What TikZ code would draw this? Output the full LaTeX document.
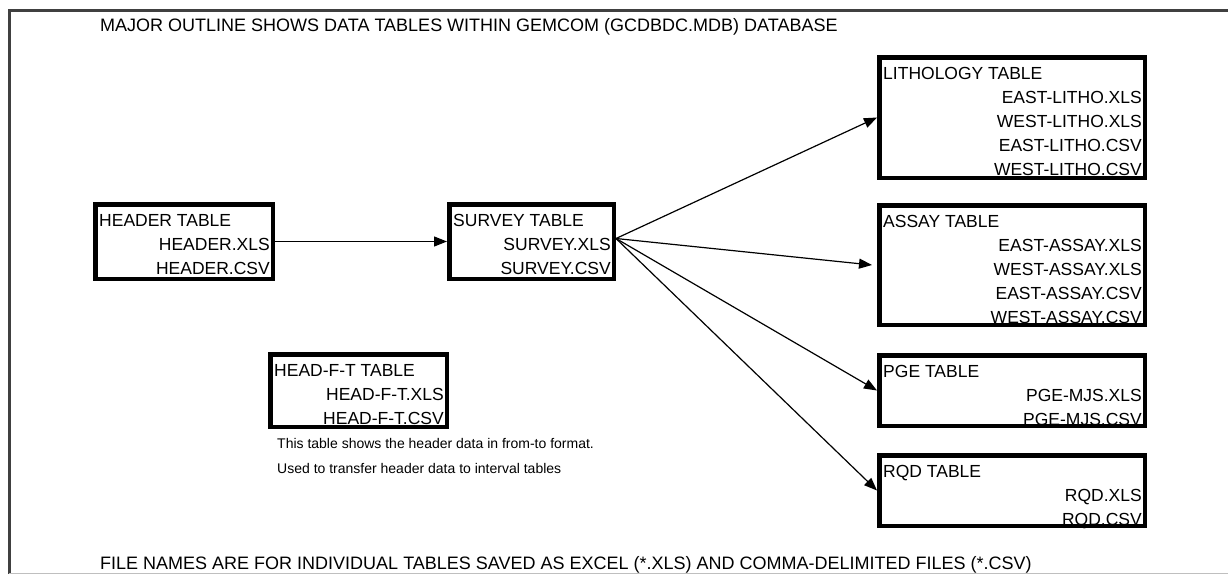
\documentclass[tikz,border=0pt]{standalone}
\usepackage{fontspec}
\setmainfont{Liberation Sans}
\usetikzlibrary{arrows.meta,calc}
\begin{document}
\begin{tikzpicture}[x=1pt,y=-1pt,
  tbl/.style={draw=black,line width=4.5pt,outer sep=2.25pt,inner sep=0pt,anchor=north west},
  ttl/.style={anchor=base west,inner sep=0pt,font=\fontsize{17.5}{20}\selectfont},
  fname/.style={anchor=base east,inner sep=0pt,font=\fontsize{17.5}{20}\selectfont},
  note/.style={anchor=base west,inner sep=0pt,font=\fontsize{18}{20}\selectfont},
  capt/.style={anchor=base west,inner sep=0pt,font=\fontsize{14}{16}\selectfont},
  conn/.style={line width=1.2pt,-{Triangle[length=13pt,width=10pt]}},
  framel/.style={line width=3pt,draw=black!75}
]
\useasboundingbox (0,0) rectangle (1228,574);
\clip (0,0) rectangle (1228,574);

% outer frame (cropped)
\coordinate (fA) at (1228,10);
\coordinate (fB) at (9,10);
\coordinate (fC) at (9,574);
\draw[framel] (fA) -- (fB) -- (fC);

% title
\node[note] (title) at (100,31) {MAJOR OUTLINE SHOWS DATA TABLES WITHIN GEMCOM (GCDBDC.MDB) DATABASE};

% tables
\node[tbl,minimum width=177.5pt,minimum height=74.5pt] (header) at (93,202) {};
\node[tbl,minimum width=164.5pt,minimum height=74.5pt] (survey) at (447,202) {};
\node[tbl,minimum width=176.5pt,minimum height=72.5pt] (headft) at (268,352) {};
\node[tbl,minimum width=265.5pt,minimum height=120.5pt] (litho) at (877,55) {};
\node[tbl,minimum width=265.5pt,minimum height=119.5pt] (assay) at (877,203) {};
\node[tbl,minimum width=265.5pt,minimum height=70.5pt] (pge) at (877,353) {};
\node[tbl,minimum width=265.5pt,minimum height=70.5pt] (rqd) at (877,453) {};

% header
\node[ttl] (headerT) at ($(header.north west)+(6,24.5)$) {HEADER TABLE};
\node[fname] (headerA) at ($(header.north east)+(-5,48.5)$) {HEADER.XLS};
\node[fname] (headerB) at ($(header.north east)+(-5,72.5)$) {HEADER.CSV};
% survey
\node[ttl] (surveyT) at ($(survey.north west)+(6,24.5)$) {SURVEY TABLE};
\node[fname] (surveyA) at ($(survey.north east)+(-5,48.5)$) {SURVEY.XLS};
\node[fname] (surveyB) at ($(survey.north east)+(-5,72.5)$) {SURVEY.CSV};
% head-f-t
\node[ttl] (headftT) at ($(headft.north west)+(6,24.5)$) {HEAD-F-T TABLE};
\node[fname] (headftA) at ($(headft.north east)+(-5,48.5)$) {HEAD-F-T.XLS};
\node[fname] (headftB) at ($(headft.north east)+(-5,72.5)$) {HEAD-F-T.CSV};
\node[capt] (cap1) at (277,448) {This table shows the header data in from-to format.};
\node[capt] (cap2) at (277,473) {Used to transfer header data to interval tables};
% lithology
\node[ttl] (lithoT) at ($(litho.north west)+(6,24.5)$) {LITHOLOGY TABLE};
\node[fname] (lithoA) at ($(litho.north east)+(-5,48.5)$) {EAST-LITHO.XLS};
\node[fname] (lithoB) at ($(litho.north east)+(-5,72.5)$) {WEST-LITHO.XLS};
\node[fname] (lithoC) at ($(litho.north east)+(-5,96.5)$) {EAST-LITHO.CSV};
\node[fname] (lithoD) at ($(litho.north east)+(-5,120.5)$) {WEST-LITHO.CSV};
% assay
\node[ttl] (assayT) at ($(assay.north west)+(6,24.5)$) {ASSAY TABLE};
\node[fname] (assayA) at ($(assay.north east)+(-5,48.5)$) {EAST-ASSAY.XLS};
\node[fname] (assayB) at ($(assay.north east)+(-5,72.5)$) {WEST-ASSAY.XLS};
\node[fname] (assayC) at ($(assay.north east)+(-5,96.5)$) {EAST-ASSAY.CSV};
\node[fname] (assayD) at ($(assay.north east)+(-5,120.5)$) {WEST-ASSAY.CSV};
% pge
\node[ttl] (pgeT) at ($(pge.north west)+(6,24.5)$) {PGE TABLE};
\node[fname] (pgeA) at ($(pge.north east)+(-5,48.5)$) {PGE-MJS.XLS};
\node[fname] (pgeB) at ($(pge.north east)+(-5,72.5)$) {PGE-MJS.CSV};
% rqd
\node[ttl] (rqdT) at ($(rqd.north west)+(6,24.5)$) {RQD TABLE};
\node[fname] (rqdA) at ($(rqd.north east)+(-5,48.5)$) {RQD.XLS};
\node[fname] (rqdB) at ($(rqd.north east)+(-5,72.5)$) {RQD.CSV};

% connectors
\draw[conn] (header.east) -- (survey.west);
\coordinate (sOut) at ($(survey.east)+(0,-3)$);
\draw[conn] (sOut) -- (litho.west);
\draw[conn] (sOut) -- ($(assay.west)+(-5,0)$);
\draw[conn] (sOut) -- (pge.west);
\draw[conn] (sOut) -- (rqd.west);

% footer
\node[note] (footer) at (100,569) {FILE NAMES ARE FOR INDIVIDUAL TABLES SAVED AS EXCEL (*.XLS) AND COMMA-DELIMITED FILES (*.CSV)};
\coordinate (gA) at (9,573.5);
\coordinate (gB) at (1228,573.5);
\draw[line width=1.5pt,draw=black!25] (gA) -- (gB);
\end{tikzpicture}
\end{document}
